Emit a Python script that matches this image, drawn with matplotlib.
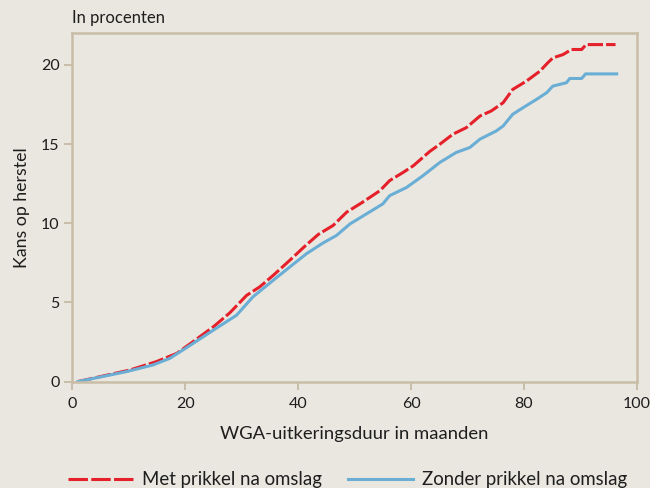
"""Kans op herstel naar WGA-uitkeringsduur."""
import matplotlib
matplotlib.use('Agg')
import matplotlib.pyplot as plt

BG = '#e9e7df'
FRAME = '#c9bda8'
TEXT = '#1e1e1e'
RED = '#e5202b'
BLUE = '#6aaed6'

# curve values (months, percent)
met_x = [1.0, 10.2, 14.9, 18.5, 21.4, 25.0, 27.9, 30.9, 33.2, 35.6, 38.5, 41.2,
         43.6, 46.2, 48.6, 51.3, 54.5, 56.2, 58.6, 60.4, 63.3, 65.1, 67.4, 69.8,
         72.2, 74.2, 76.3, 78.0, 80.4, 82.8, 84.2, 85.1, 86.9, 88.4, 90.2, 91.0,
         96.2]
met_y = [0.0, 0.73, 1.26, 1.78, 2.52, 3.46, 4.34, 5.45, 5.98, 6.71, 7.65, 8.55,
         9.3, 9.86, 10.7, 11.3, 12.06, 12.69, 13.21, 13.63, 14.53, 14.99, 15.62,
         16.04, 16.77, 17.09, 17.61, 18.45, 18.97, 19.6, 20.13, 20.44, 20.65,
         20.97, 20.97, 21.28, 21.28]

zonder_x = [1.0, 9.6, 14.3, 17.3, 21.4, 25.0, 29.1, 32.0, 35.6, 38.5, 41.5, 44.4,
            46.8, 49.2, 52.1, 55.0, 56.2, 59.2, 62.1, 65.1, 68.0, 70.4, 72.2,
            75.1, 76.3, 78.0, 79.8, 82.2, 84.0, 85.1, 87.5, 88.1, 90.2, 90.9,
            96.4]
zonder_y = [0.0, 0.63, 1.05, 1.47, 2.41, 3.25, 4.19, 5.35, 6.40, 7.23, 8.08, 8.75,
            9.23, 9.96, 10.59, 11.22, 11.74, 12.26, 13.0, 13.84, 14.47, 14.78,
            15.31, 15.83, 16.14, 16.88, 17.29, 17.82, 18.24, 18.66, 18.87, 19.14,
            19.14, 19.43, 19.43]

xticks = [0, 20, 40, 60, 80, 100]
yticks = [0, 5, 10, 15, 20]

plt.rcParams['font.family'] = ['Lato', 'DejaVu Sans']
plt.rcParams['lines.scale_dashes'] = False

fig = plt.figure(figsize=(6.5, 4.88), dpi=100)
fig.patch.set_facecolor(BG)
ax = fig.add_axes([0.111, 0.218, 0.869, 0.714])
ax.set_facecolor(BG)

ax.plot(met_x, met_y, color=RED, lw=2.2, dashes=(11, 2.2),
        label='Met prikkel na omslag')
ax.plot(zonder_x, zonder_y, color=BLUE, lw=2.2,
        label='Zonder prikkel na omslag')

ax.set_xlim(0, 100)
ax.set_ylim(0, 22)
ax.set_xticks(xticks)
ax.set_yticks(yticks)
for s in ax.spines.values():
    s.set_color(FRAME)
    s.set_linewidth(1.8)
ax.tick_params(colors=FRAME, width=1.4, length=6, labelcolor=TEXT,
               labelsize=11.5)
ax.tick_params(axis='y', pad=3)
ax.tick_params(axis='x', pad=5)

ax.set_xlabel('WGA-uitkeringsduur in maanden', fontsize=13.3, color=TEXT,
              labelpad=11)
ax.set_ylabel('Kans op herstel', fontsize=12.8, color=TEXT, labelpad=8)
fig.text(0.111, 0.963, 'In procenten', fontsize=12, color=TEXT,
         ha='left', va='center')

leg = fig.legend(loc='lower center', bbox_to_anchor=(0.535, -0.035), ncol=2,
                 frameon=False, fontsize=13.4, handlelength=3.5,
                 handletextpad=0.48, columnspacing=1.4, labelcolor=TEXT)
leg.get_lines()[0].set_dashes((14, 2.4))

plt.savefig('out.png', dpi=100, facecolor=BG)
plt.close()
